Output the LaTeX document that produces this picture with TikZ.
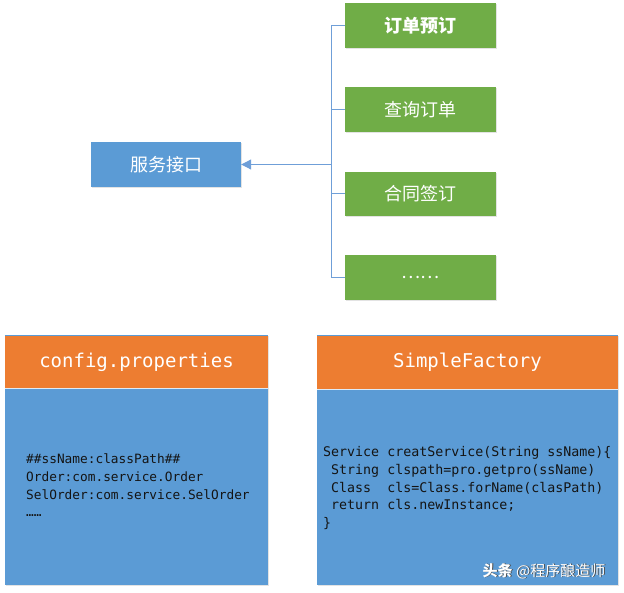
\documentclass[tikz,border=0pt]{standalone}
\usepackage{fontspec}
\setmonofont{DejaVu Sans Mono}
\newfontfamily\cjk{Noto Sans CJK SC}
\usetikzlibrary{arrows.meta,shadows}
\definecolor{gr}{HTML}{70AD47}
\definecolor{bl}{HTML}{5B9BD5}
\definecolor{orng}{HTML}{ED7D31}
\definecolor{ln}{HTML}{6F9FD8}
\tikzset{
  shd/.style={drop shadow={opacity=0.18,shadow xshift=1.2pt,shadow yshift=-1.2pt,fill=black!60}},
  greenbox/.style={fill=gr,draw=none,minimum width=151pt,minimum height=44.5pt,inner sep=0pt,shd,
    text=white,font=\cjk\fontsize{18}{20}\selectfont},
  bluebox/.style={fill=bl,draw=none,minimum width=150pt,minimum height=45pt,inner sep=0pt,shd,
    text=white,font=\cjk\fontsize{18}{20}\selectfont},
  headbox/.style={fill=orng,draw=none,inner sep=0pt,text=white,font=\ttfamily\fontsize{19}{22}\selectfont},
  bodybox/.style={fill=bl,draw=none,inner sep=0pt},
  codetxt/.style={anchor=north west,inner sep=0pt,align=left,text=black!92},
  conn/.style={draw=ln,line width=1pt},
}
\begin{document}
\begin{tikzpicture}[x=1pt,y=-1pt]
\useasboundingbox (0,0) rectangle (624,593);
% top part
\node[bluebox] (svc) at (166,164.5) {服务接口};
\node[greenbox,font=\cjk\bfseries\fontsize{18}{20}\selectfont] (g1) at (420.5,25.5) {订单预订};
\node[greenbox] (g2) at (420.5,109.5) {查询订单};
\node[greenbox] (g3) at (420.5,194) {合同签订};
\node[greenbox] (g4) at (420.5,277.5) {……};
\coordinate (j) at (331,164.5);
\draw[conn] (g1.west) -| (j);
\draw[conn] (g4.west) -| (j);
\draw[conn] (g2.west) -- (g2.west -| j);
\draw[conn] (g3.west) -- (g3.west -| j);
\draw[conn,-{Triangle[length=10pt,width=10pt]}] (j) -- (svc.east);
% bottom panels
\path[shd,fill=bl] (5,335) rectangle (268,585);
\path[shd,fill=bl] (317,335) rectangle (618,585);
\node[bodybox,minimum width=263pt,minimum height=198pt] (b1) at (136.5,486) {};
\node[headbox,minimum width=263pt,minimum height=52pt] (h1) at (136.5,362) {config.properties};
\draw[white!80!bl,line width=0.8pt] (h1.south west) -- (h1.south east);
\node[codetxt,font=\ttfamily\fontsize{12.8}{17.6}\selectfont] (c1) at (26,454)
  {\#\#ssName:classPath\#\#\\Order:com.service.Order\\SelOrder:com.service.SelOrder\\……};
\node[bodybox,minimum width=301pt,minimum height=197pt] (b2) at (467.5,486.5) {};
\node[headbox,minimum width=301pt,minimum height=53pt] (h2) at (467.5,362.5) {SimpleFactory};
\draw[white!80!bl,line width=0.8pt] (h2.south west) -- (h2.south east);
\node[codetxt,font=\ttfamily\fontsize{13.3}{17.6}\selectfont] (c2) at (323,446.5)
  {Service creatService(String ssName)\{\\
   \hphantom{S}String clspath=pro.getpro(ssName)\\
   \hphantom{S}Class\hphantom{SS}cls=Class.forName(clasPath)\\
   \hphantom{S}return cls.newInstance;\\
   \}};
% watermark
\node[text=black!70,font=\cjk\fontsize{15}{17}\selectfont,inner sep=0pt] at (545,571.8) {\textbf{头条} @程序酿造师};
\node[text=white,font=\cjk\fontsize{15}{17}\selectfont,inner sep=0pt] (wm) at (544,571) {\textbf{头条} @程序酿造师};
\end{tikzpicture}
\end{document}
